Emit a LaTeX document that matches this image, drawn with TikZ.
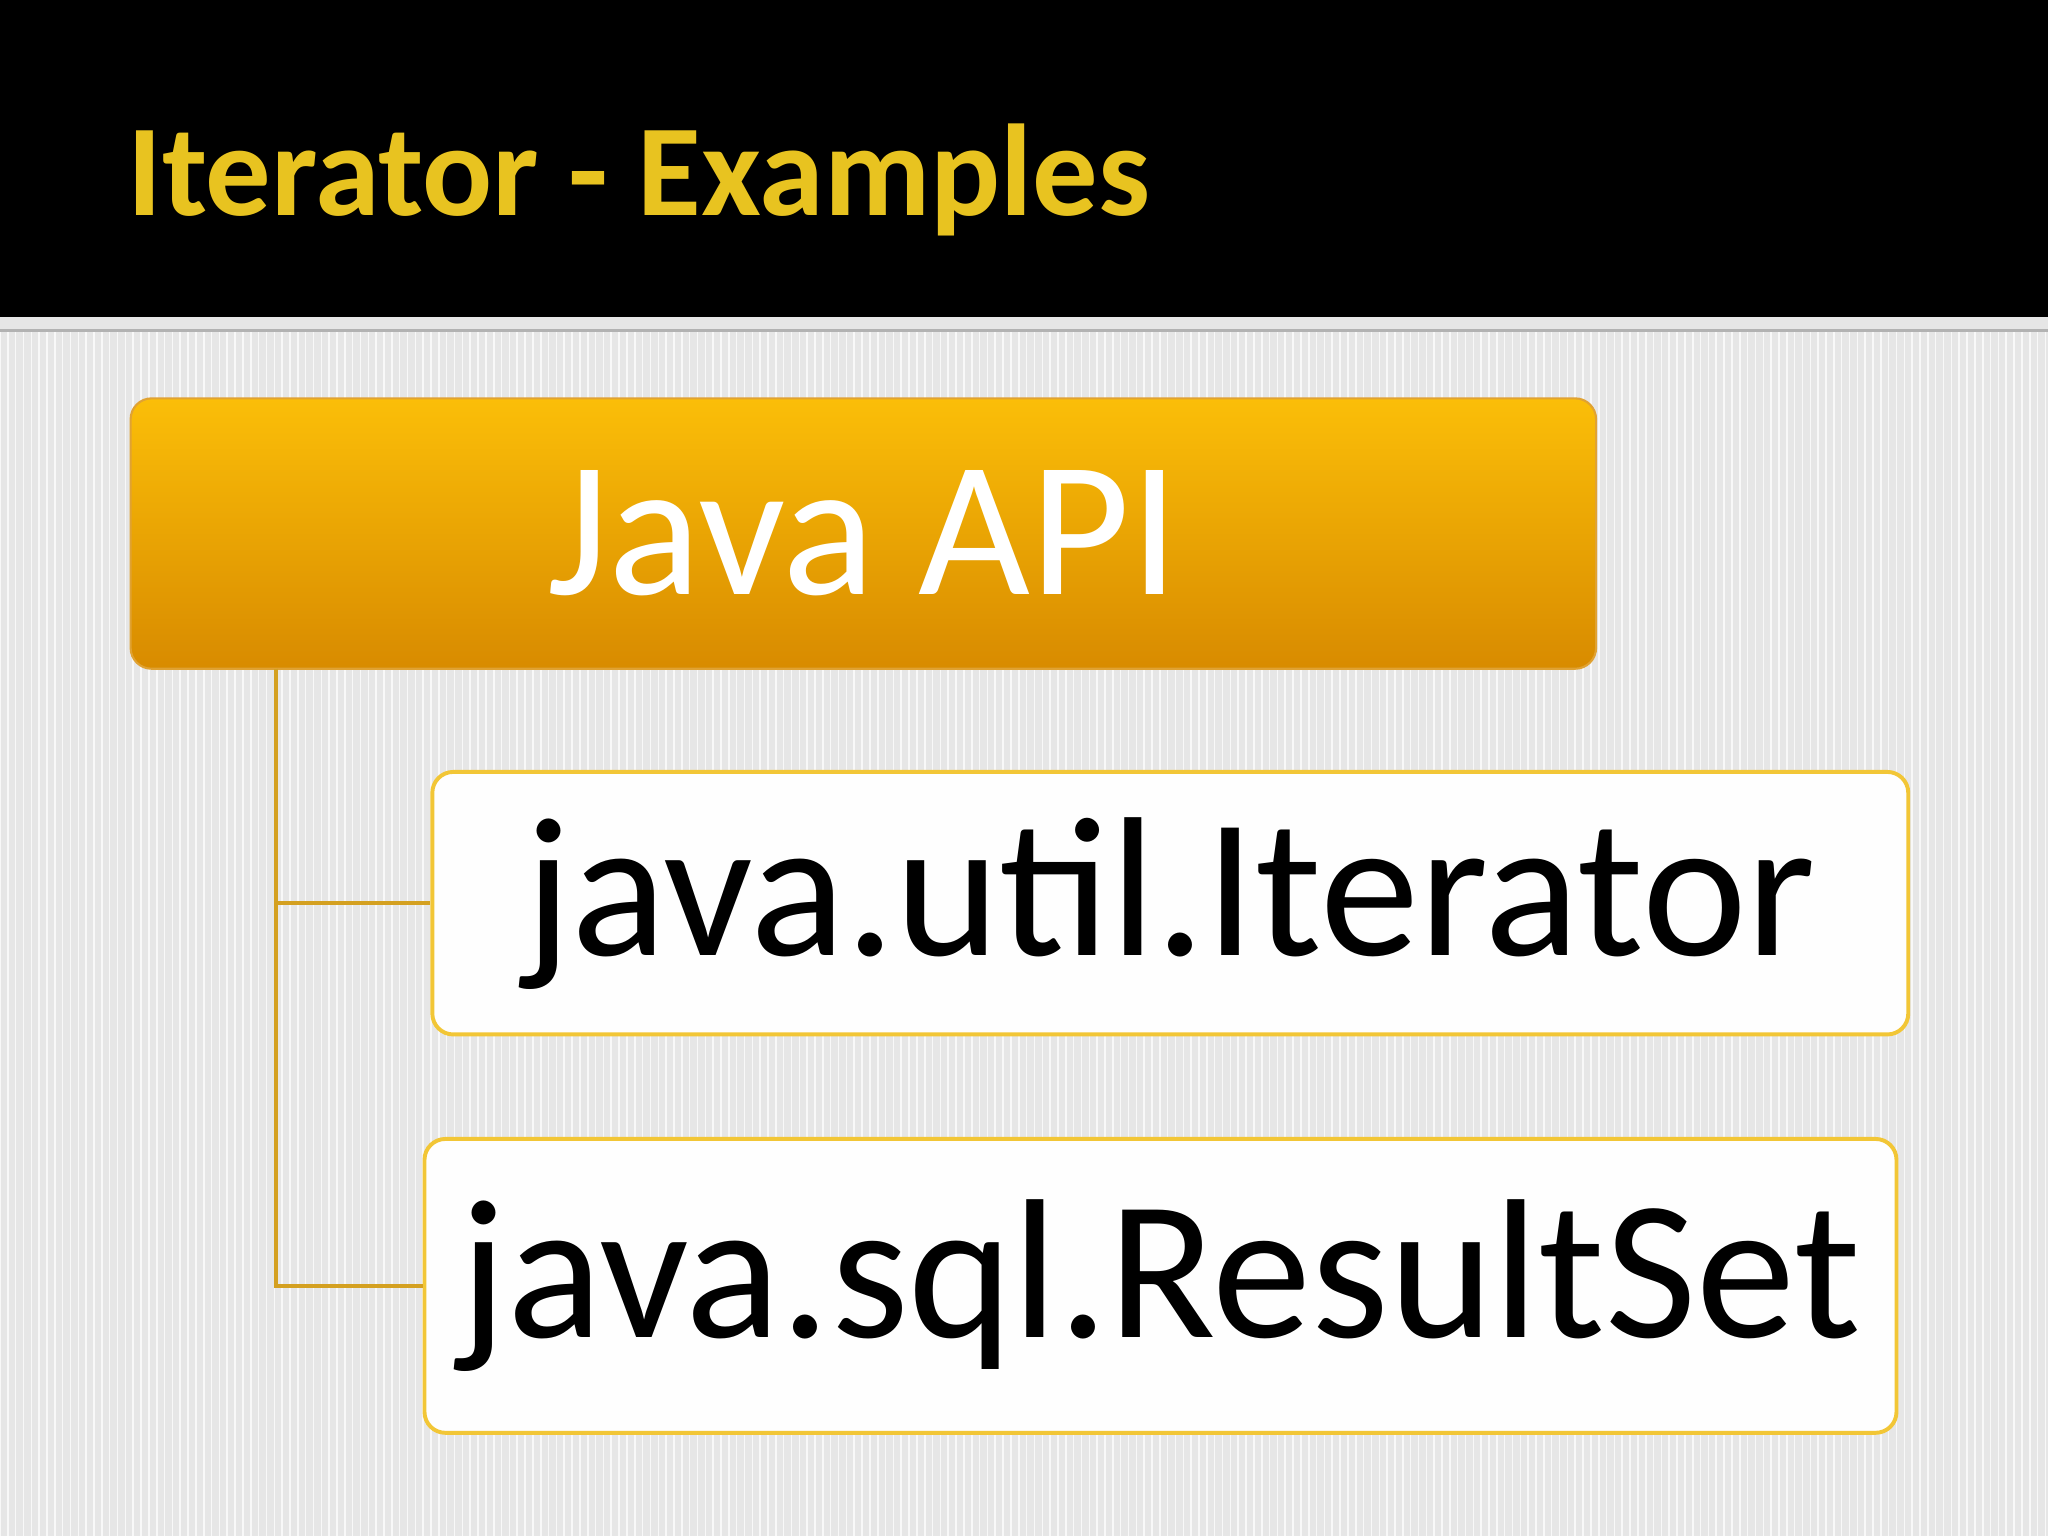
\documentclass[tikz,border=0pt]{standalone}
\usepackage{fontspec}
\setmainfont{Carlito}
\definecolor{bg}{HTML}{E6E6E6}
\definecolor{gold}{HTML}{E8C320}
\definecolor{gtop}{HTML}{FBBE08}
\definecolor{gbot}{HTML}{D88B00}
\definecolor{line}{HTML}{D4A020}
\definecolor{bord}{HTML}{F2C636}
\tikzset{
  x=0.5pt,y=-0.5pt,
  child/.style={draw=bord,line width=1.5pt,rounded corners=8pt,fill=white!96!bg,minimum width=1130*0.5pt,text=black,font=\fontsize{76}{80}\selectfont,inner sep=0pt},
  conn/.style={draw=line,line width=1.6pt}
}
\begin{document}
\begin{tikzpicture}
\useasboundingbox (0,0) rectangle (1568,1176);
\fill[bg] (0,0) rectangle (1568,1176);
\foreach \i in {0,6,...,1566} \draw[white!70!bg,line width=0.6pt] (\i,252) -- (\i,1176);
\fill[black] (0,0) rectangle (1568,243);
\draw[gray!60,line width=1pt] (0,253) -- (1568,253);
\node[anchor=base west,text=gold,font=\bfseries\fontsize{50}{54}\selectfont,inner sep=0pt] (title) at (97,165) {Iterator - Examples};
\shade[top color=gtop,bottom color=gbot,rounded corners=8pt,draw=gbot!80!white,line width=0.8pt] (100,305) rectangle (1222,512);
\node[text=white,font=\fontsize{74}{78}\selectfont,inner sep=0pt,minimum width=1122*0.5pt,minimum height=207*0.5pt] (api) at (661,408.5) {Java API};
\node[child,minimum height=201*0.5pt] (it) at (896,691.5) {java.util.Iterator};
\node[child,minimum width=1127*0.5pt,minimum height=225*0.5pt] (rs) at (888.5,984.5) {java.sql.ResultSet};
\coordinate (top) at (211,512);
\draw[conn] (top) |- (it.west);
\draw[conn] (top) |- (rs.west);
\end{tikzpicture}
\end{document}
